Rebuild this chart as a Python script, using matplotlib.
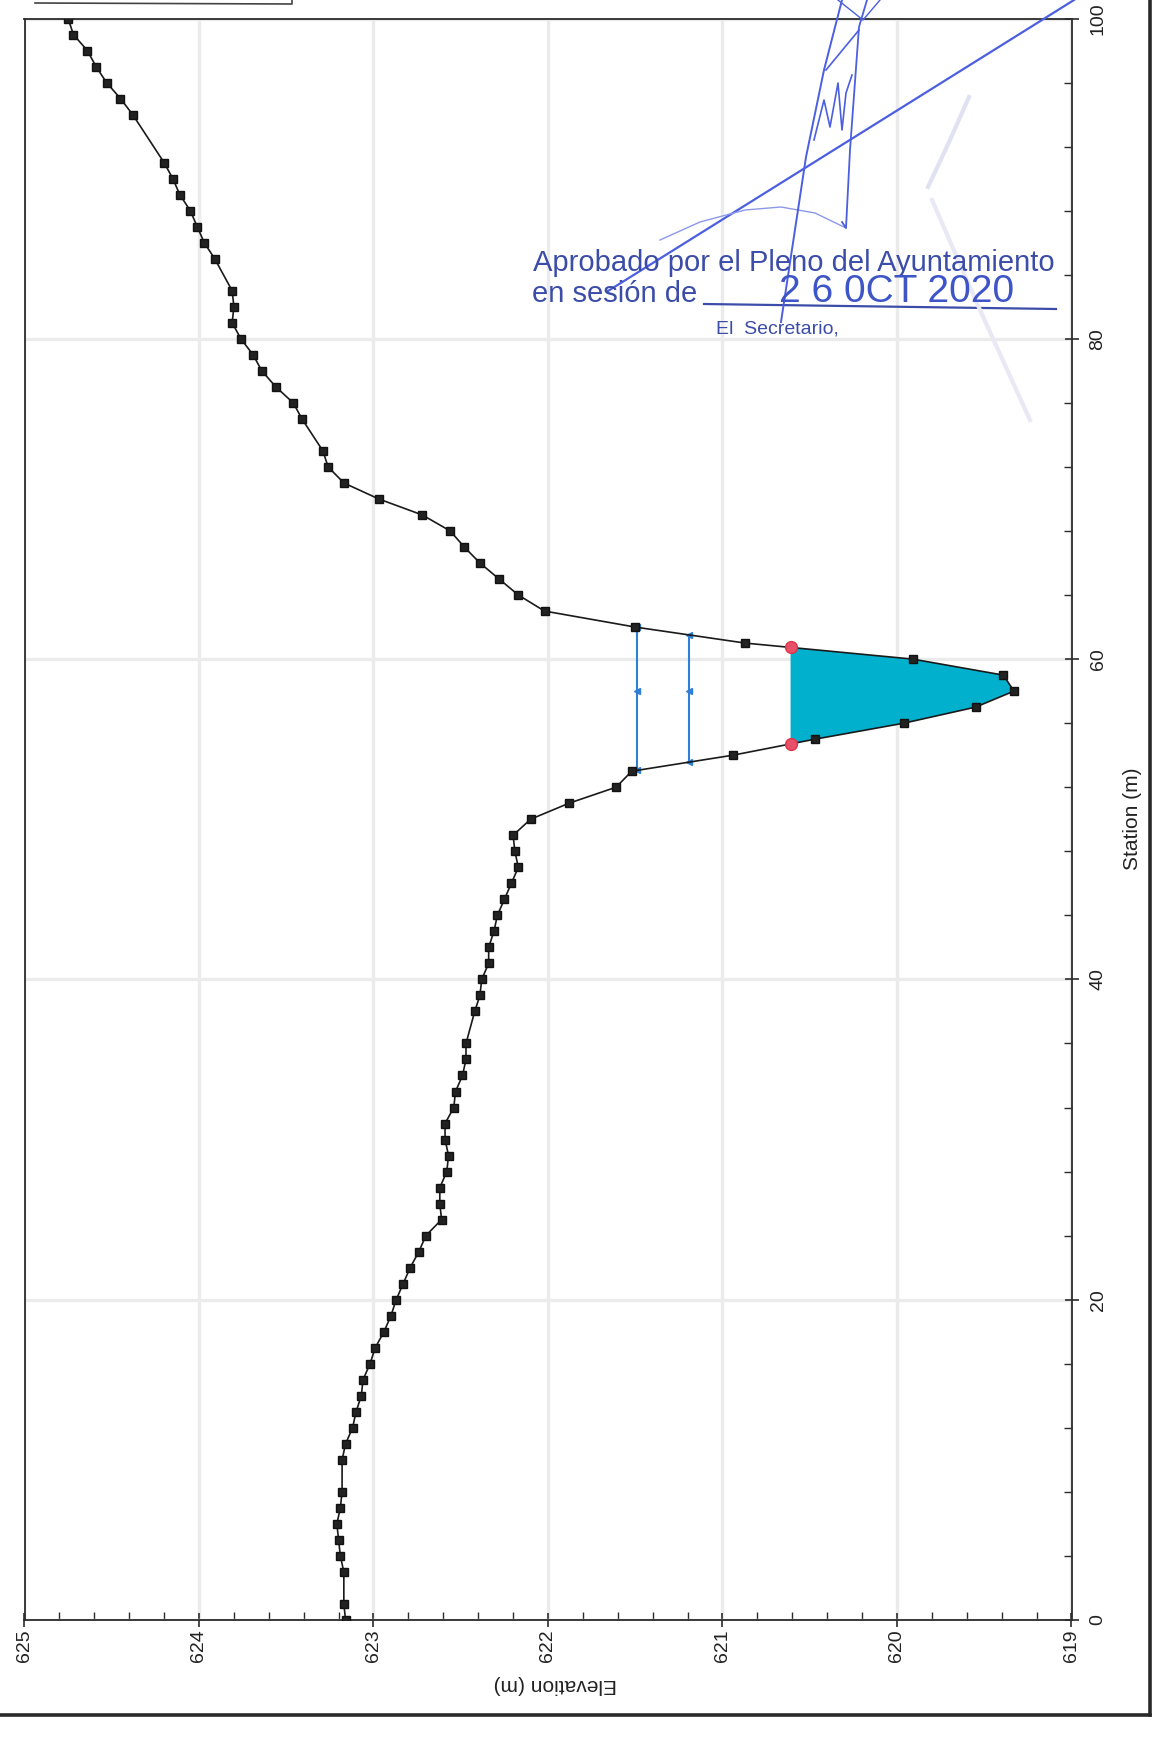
import numpy as np
import matplotlib.pyplot as plt
from matplotlib.lines import Line2D
from matplotlib import font_manager
from matplotlib.ticker import MultipleLocator

# ground profile (station m, elevation m)
station = [0, 1, 3, 4, 5, 6, 7, 8, 10, 11, 12, 13, 14, 15, 16, 17, 18, 19, 20,
           21, 22, 23, 24, 25, 26, 27, 28, 29, 30, 31, 32, 33, 34, 35, 36, 38,
           39, 40, 41, 42, 43, 44, 45, 46, 47, 48, 49, 50, 51, 52, 53, 54, 55,
           56, 57, 58, 59, 60, 61, 62, 63, 64, 65, 66, 67, 68, 69, 70, 71, 72,
           73, 75, 76, 77, 78, 79, 80, 81, 82, 83, 85, 86, 87, 88, 89, 90, 91,
           94, 95, 96, 97, 98, 99, 100]
elevation = [623.16, 623.17, 623.17, 623.19, 623.20, 623.21, 623.19, 623.18,
             623.18, 623.16, 623.12, 623.10, 623.07, 623.06, 623.02, 622.99,
             622.94, 622.90, 622.87, 622.83, 622.79, 622.74, 622.70, 622.61,
             622.62, 622.62, 622.58, 622.57, 622.59, 622.59, 622.54, 622.53,
             622.49, 622.47, 622.47, 622.42, 622.39, 622.38, 622.34, 622.34,
             622.31, 622.29, 622.25, 622.21, 622.17, 622.19, 622.20, 622.10,
             621.88, 621.61, 621.52, 620.94, 620.47, 619.96, 619.55, 619.33,
             619.39, 619.91, 620.87, 621.50, 622.02, 622.17, 622.28, 622.39,
             622.48, 622.56, 622.72, 622.97, 623.17, 623.26, 623.29, 623.41,
             623.46, 623.56, 623.64, 623.69, 623.76, 623.81, 623.80, 623.81,
             623.91, 623.97, 624.01, 624.05, 624.11, 624.15, 624.20, 624.38,
             624.45, 624.53, 624.59, 624.64, 624.72, 624.75]

water_surface = 620.61
blue_levels = [621.49, 621.19]
blue_mid_station = 58

W, H = 1160, 1741


def crossings(level):
    st = np.array(station, float)
    el = np.array(elevation, float)
    out = []
    for i in range(len(st) - 1):
        a, b = el[i] - level, el[i + 1] - level
        if a * b < 0:
            out.append(st[i] + (st[i + 1] - st[i]) * a / (a - b))
    return out


def fx(x):
    return x / W


def fy(y):
    return 1 - y / H


plt.rcParams['font.family'] = ['Liberation Sans', 'DejaVu Sans']

fig = plt.figure(figsize=(W / 100, H / 100), dpi=100)
fig.patch.set_facecolor('white')
ax = fig.add_axes([fx(24.5), fy(1620), (1071.5 - 24.5) / W, (1620 - 18.5) / H])

ax.set_xlim(625, 619)
ax.set_ylim(0, 100)

# water fill
l_st, r_st = crossings(water_surface)
poly_x = [water_surface]
poly_y = [l_st]
for s, e in zip(station, elevation):
    if l_st < s < r_st:
        poly_x.append(e)
        poly_y.append(s)
poly_x.append(water_surface)
poly_y.append(r_st)
ax.fill(poly_x, poly_y, color='#00B0CC', lw=0, zorder=2)

# blue lines
for lvl in blue_levels:
    a, b = crossings(lvl)
    ax.plot([lvl, lvl], [a, b], color='#2F7FD6', lw=1.5, zorder=3)
    ax.plot([lvl, lvl, lvl], [a, blue_mid_station, b], ls='none', marker='<',
            ms=5, color='#2F7FD6', zorder=4)

# ground
ax.plot(elevation, station, color='#1a1a1a', lw=1.2, marker='s', ms=5.2,
        mec='#111111', mfc='#222222', zorder=5)

# water surface end points
ax.plot([water_surface, water_surface], [l_st, r_st], ls='none', marker='o',
        ms=8.5, mfc='#E8506A', mec='#E0304A', zorder=6)

# axes styling
ax.grid(True, which='major', color='#ebebeb', lw=2.4, zorder=0)
ax.set_axisbelow(True)
for sp in ax.spines.values():
    sp.set_color('#2b2b2b')
    sp.set_linewidth(1.3)

ax.xaxis.set_major_locator(MultipleLocator(1))
ax.xaxis.set_minor_locator(MultipleLocator(0.2))
ax.yaxis.set_major_locator(MultipleLocator(20))
ax.yaxis.set_minor_locator(MultipleLocator(4))
ax.yaxis.tick_right()
ax.yaxis.set_label_position('right')

ax.tick_params(which='major', direction='inout', length=10, width=1.2,
               color='#2b2b2b', labelsize=14, labelcolor='#222222')
ax.tick_params(which='minor', direction='in', length=6, width=1.0, color='#2b2b2b')
ax.tick_params(axis='x', which='major', pad=2)
ax.tick_params(axis='y', which='major', pad=8)
for lab in ax.get_xticklabels():
    lab.set_rotation(90)
for lab in ax.get_yticklabels():
    lab.set_rotation(90)
    lab.set_va('center')

ax.set_xlabel('Elevation (m)', fontsize=15, rotation=180, color='#222222')
ax.xaxis.set_label_coords(0.507, -0.040)
ax.xaxis.label.set_va('center')
ax.set_ylabel('Station (m)', fontsize=15, rotation=90, color='#222222')
ax.yaxis.set_label_coords(1.058, 0.5)
ax.yaxis.label.set_va('center')

# page borders and cut-off box
fig.add_artist(Line2D([fx(1150), fx(1150)], [fy(0), fy(1715)], color='#2a2a2a', lw=2.6))
fig.add_artist(Line2D([fx(0), fx(1150)], [fy(1715), fy(1715)], color='#2a2a2a', lw=2.6))
fig.add_artist(Line2D([fx(35), fx(292), fx(292)], [fy(3), fy(4), fy(0)], color='#444444', lw=1.2))

# stamp
ink = '#3B4DA8'
fig.text(fx(533), fy(271), 'Aprobado por el Pleno del Ayuntamiento', fontsize=21,
         color=ink, ha='left', va='baseline')
fig.text(fx(532), fy(302), 'en sesión de', fontsize=21, color=ink, ha='left', va='baseline')
fig.add_artist(Line2D([fx(704), fx(1056)], [fy(304), fy(309)], color=ink, lw=1.6))
names = {f.name for f in font_manager.fontManager.ttflist}
if 'Liberation Sans Narrow' in names:
    fig.text(fx(779), fy(302), '2 6 0CT 2020', fontsize=33, color='#3E55C8',
             family=['Liberation Sans Narrow', 'DejaVu Sans'], ha='left', va='baseline')
else:
    fig.text(fx(779), fy(302), '2 6 0CT 2020', fontsize=28, color='#3E55C8',
             ha='left', va='baseline')
fig.text(fx(716), fy(333), 'El  Secretario,', fontsize=14, color=ink, ha='left', va='baseline')

# signature strokes
sig = '#4B5FE0'
strokes = [
    ([608, 1074], [291, 0], 1.6, sig),
    ([660, 700, 745, 781, 815, 846], [240, 222, 210, 207, 213, 228], 1.0, '#8C98EA'),
    ([781, 806, 824, 842], [322, 157, 70, 0], 1.4, sig),
    ([842, 846, 850, 859, 867], [222, 228, 150, 27, 0], 1.3, sig),
    ([814, 824, 830, 838, 842, 846, 852], [140, 100, 127, 83, 130, 93, 75], 1.2, sig),
    ([826, 859], [70, 30], 1.2, sig),
    ([838, 863, 880], [0, 20, 0], 1.0, sig),
]
for xs, ys, lw, c in strokes:
    fig.add_artist(Line2D([fx(v) for v in xs], [fy(v) for v in ys], color=c, lw=lw))
fig.add_artist(Line2D([fx(969), fx(950), fx(928)], [fy(97), fy(140), fy(187)],
                      color='#e0e2f2', lw=3))
fig.add_artist(Line2D([fx(932), fx(980), fx(1030)], [fy(200), fy(310), fy(420)],
                      color='#e8e9f4', lw=3))

fig.savefig('out.png', dpi=100)
